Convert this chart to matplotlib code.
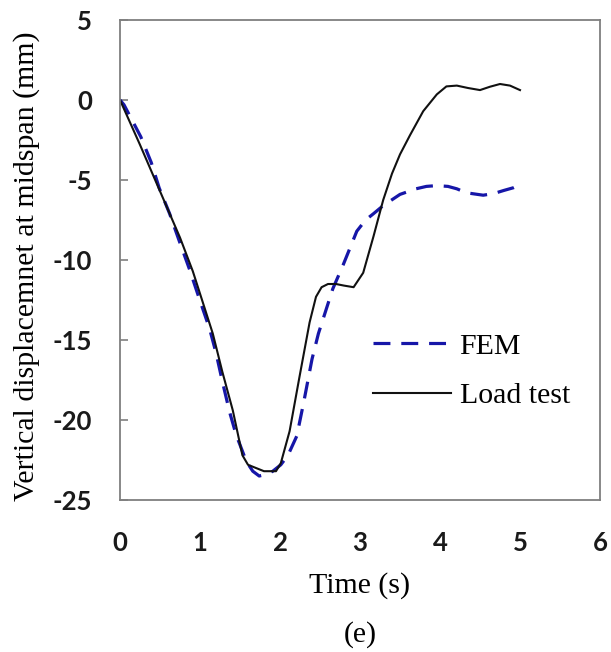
import matplotlib
matplotlib.use("Agg")
import matplotlib.pyplot as plt
from matplotlib.lines import Line2D

# ---- data ----
time_load = [0.0, 0.25, 0.5, 0.75, 0.91, 1.0, 1.16, 1.28, 1.41, 1.53, 1.6, 1.7, 1.8,
             1.95, 2.01, 2.12, 2.24, 2.37, 2.45, 2.52, 2.6, 2.7, 2.8, 2.92, 3.04,
             3.17, 3.29, 3.40, 3.5, 3.625, 3.79, 3.96, 4.08, 4.21, 4.35, 4.5,
             4.625, 4.75, 4.875, 5.0]
disp_load = [0.0, -2.8, -5.7, -8.6, -10.7, -12.1, -14.6, -17.0, -19.4, -22.2, -22.8,
             -23.0, -23.2, -23.2, -22.7, -20.7, -17.4, -13.9, -12.3, -11.7, -11.5,
             -11.5, -11.6, -11.7, -10.8, -8.5, -6.25, -4.6, -3.4, -2.2, -0.7, 0.35,
             0.85, 0.9, 0.75, 0.62, 0.83, 1.0, 0.9, 0.62]

time_fem = [0.0, 0.05, 0.26, 0.39, 0.49, 0.62, 0.74, 0.87, 0.99, 1.12, 1.2, 1.28,
            1.37, 1.45, 1.58, 1.66, 1.74, 1.83, 1.91, 2.01, 2.1, 2.21, 2.3, 2.4,
            2.48, 2.57, 2.66, 2.79, 2.96, 3.07, 3.17, 3.29, 3.5, 3.7, 3.83, 3.96,
            4.1, 4.21, 4.33, 4.54, 4.67, 4.8, 4.92, 5.0]
disp_fem = [0.0, -0.3, -2.3, -3.9, -5.5, -7.1, -8.8, -10.6, -12.4, -14.3, -15.8,
            -17.6, -19.5, -20.9, -22.6, -23.2, -23.5, -23.4, -23.2, -22.8, -22.2,
            -21.0, -18.8, -16.2, -14.6, -13.2, -11.8, -10.3, -8.2, -7.5, -7.1,
            -6.6, -5.9, -5.55, -5.4, -5.35, -5.4, -5.55, -5.8, -5.95, -5.85,
            -5.65, -5.48, -5.3]

x_ticks = [0, 1, 2, 3, 4, 5, 6]
y_ticks = [5, 0, -5, -10, -15, -20, -25]
series_labels = ["FEM", "Load test"]
x_label = "Time (s)"
y_label = "Vertical displacemnet at midspan (mm)"
caption = "(e)"

W, H = 611, 652
fig = plt.figure(figsize=(W / 100, H / 100), dpi=100)
L, R, T, B = 120, 600, 20, 500
ax = fig.add_axes([L / W, 1 - B / H, (R - L) / W, (B - T) / H])

blue = "#1616a8"
fem_style = dict(color=blue, lw=2.3, dashes=(5.3, 3.4))
load_style = dict(color="#111111", lw=1.5)
ax.plot(time_fem, disp_fem, **fem_style)
ax.plot(time_load, disp_load, **load_style)

ax.set_xlim(0, 6)
ax.set_ylim(-25, 5)
ax.set_xticks(x_ticks)
ax.set_yticks(y_ticks)

tick_font = dict(family=["Lato", "DejaVu Sans"], size=18.5, weight="bold")
ax.set_xticklabels([str(v) for v in x_ticks], **tick_font)
ax.set_yticklabels([str(v) for v in y_ticks], **tick_font)
for lab in ax.get_xticklabels() + ax.get_yticklabels():
    lab.set_color("#1a1a1a")

ax.tick_params(axis="y", direction="in", length=6, width=1.2, color="#7f7f7f", pad=20)
ax.tick_params(axis="x", direction="in", length=0, pad=22)
for sp in ax.spines.values():
    sp.set_color("#7f7f7f")
    sp.set_linewidth(1.3)

serif = dict(family=["Liberation Serif", "DejaVu Serif"], size=21.5)
ax.set_xlabel(x_label, va="center", **serif)
ax.xaxis.set_label_coords(0.5, (B - 586) / (B - T))
ax.set_ylabel(y_label, va="center", **serif)
ax.yaxis.set_label_coords((27 - L) / (R - L), (B - 266) / (B - T))

fig.text((L + R) / 2 / W, 1 - 635 / H, caption, ha="center", va="center", **serif)

handles = [Line2D([], [], **fem_style), Line2D([], [], **load_style)]
leg = ax.legend(handles, series_labels, loc="center left",
                bbox_to_anchor=((373 - L) / (R - L), (B - 371) / (B - T)),
                frameon=False, prop=dict(family="Liberation Serif", size=21.5),
                handlelength=2.6, handletextpad=0.3, labelspacing=0.75,
                borderaxespad=0, borderpad=0)

fig.savefig("out.png", dpi=100)
